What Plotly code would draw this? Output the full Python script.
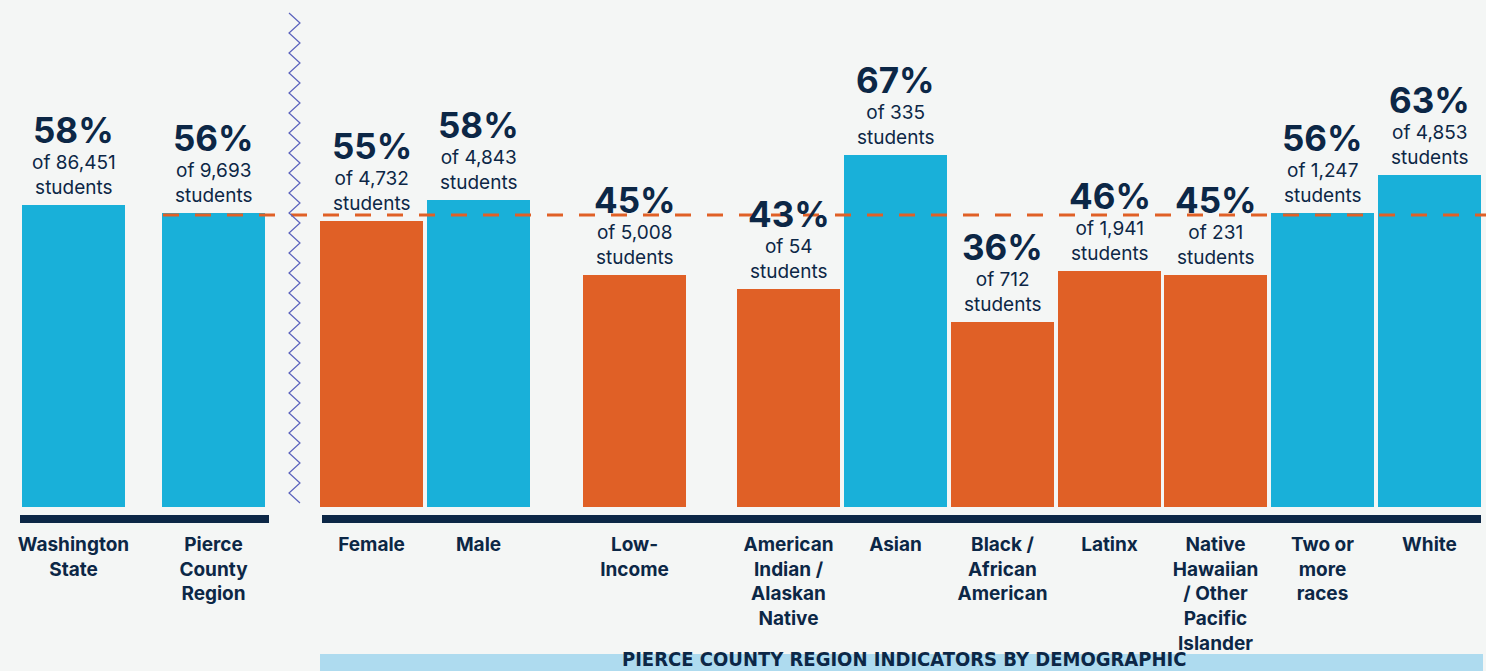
import plotly.graph_objects as go

# ---------------- data ----------------
categories = ["Washington State", "Pierce County Region", "Female", "Male", "Low-Income",
              "American Indian / Alaskan Native", "Asian", "Black / African American",
              "Latinx", "Native Hawaiian / Other Pacific Islander", "Two or more races", "White"]
tick_labels = ["Washington<br>State", "Pierce<br>County<br>Region", "Female", "Male",
               "Low-<br>Income", "American<br>Indian /<br>Alaskan<br>Native", "Asian",
               "Black /<br>African<br>American", "Latinx",
               "Native<br>Hawaiian<br>/ Other<br>Pacific<br>Islander", "Two or<br>more<br>races", "White"]
# labelled percentages
percents = [58, 56, 55, 58, 45, 43, 67, 36, 46, 45, 56, 63]
# bar heights as drawn in the picture (%)
bar_heights = [57.5, 56.0, 54.4, 58.4, 44.2, 41.5, 67.0, 35.2, 44.9, 44.2, 56.0, 63.2]
students = ["86,451", "9,693", "4,732", "4,843", "5,008", "54", "335", "712",
            "1,941", "231", "1,247", "4,853"]
reference_value = 56  # Pierce County Region
banner_text = "PIERCE COUNTY REGION INDICATORS BY DEMOGRAPHIC"

# ---------------- layout / style ----------------
W, H = 1486, 671
x_pos = [73.5, 213.5, 371.5, 478.5, 634.5, 788.5, 895.5, 1002.5, 1109.5, 1215.5, 1322.5, 1429.5]
bar_w = 103
BLUE = "#19b0d9"
ORANGE = "#e06026"
NAVY = "#0c2746"
BG = "#f4f6f5"
BANNER = "#aedbef"
ZIG = "#5a62bd"
FONT = "Inter, Lato, 'Open Sans', sans-serif"

PLOT_H = 523  # plot area height in px (margin top 0)
Y_MIN, Y_MAX = -3.045, 96.5


def py(p):  # pixel y -> paper y
    return (PLOT_H - p) / PLOT_H


colors = [BLUE if v >= reference_value else ORANGE for v in percents]

fig = go.Figure()
fig.add_trace(go.Bar(
    x=x_pos, y=bar_heights, width=bar_w, marker=dict(color=colors, line=dict(width=0)),
    hoverinfo="skip", showlegend=False))

shapes = []
# navy baselines
shapes.append(dict(type="rect", xref="x", yref="paper", x0=20, x1=269, y0=py(523), y1=py(515),
                   fillcolor=NAVY, line=dict(width=0), layer="above"))
shapes.append(dict(type="rect", xref="x", yref="paper", x0=322, x1=1481, y0=py(523), y1=py(515),
                   fillcolor=NAVY, line=dict(width=0), layer="above"))
# dashed reference line
shapes.append(dict(type="line", xref="x", yref="y", x0=163, x1=1486, y0=reference_value - 0.4,
                   y1=reference_value - 0.4,
                   line=dict(color=ORANGE, width=3, dash="16px,16px"), layer="above"))
# zigzag separator
pts = []
yy = 13
left = True
while yy <= 512:
    pts.append((289 if left else 300, yy))
    left = not left
    yy += 10
path = "M " + " L ".join(f"{x},{py(y):.5f}" for x, y in pts)
shapes.append(dict(type="path", xref="x", yref="paper", path=path,
                   line=dict(color=ZIG, width=1.2), layer="above"))
# banner
shapes.append(dict(type="rect", xref="x", yref="paper", x0=320, x1=1483, y0=py(690), y1=py(654),
                   fillcolor=BANNER, line=dict(width=0), layer="below"))

annotations = []
for x, h, v, s in zip(x_pos, bar_heights, percents, students):
    annotations.append(dict(x=x, y=h, xref="x", yref="y", text=f"of {s}<br>students",
                            showarrow=False, yanchor="bottom", yshift=4,
                            font=dict(family=FONT, size=19, color=NAVY)))
    annotations.append(dict(x=x, y=h, xref="x", yref="y", text=f"<b>{v}%</b>",
                            showarrow=False, yanchor="middle", yshift=75,
                            font=dict(family=FONT, size=35, color=NAVY, weight=800)))
annotations.append(dict(x=904, y=py(659), xref="x", yref="paper", text=f"<b>{banner_text}</b>",
                        showarrow=False, xanchor="center", yanchor="middle", borderpad=0,
                        font=dict(family="'Liberation Sans Narrow', 'DejaVu Sans Condensed', sans-serif",
                                  size=20, color=NAVY)))

fig.update_layout(
    width=W, height=H,
    margin=dict(l=0, r=0, t=0, b=H - PLOT_H, pad=0),
    paper_bgcolor=BG, plot_bgcolor=BG,
    shapes=shapes, annotations=annotations,
    xaxis=dict(range=[0, W], tickvals=x_pos, ticktext=[f"<b>{t}</b>" for t in tick_labels],
               showgrid=False, zeroline=False, showline=False, ticks="",
               tickfont=dict(family=FONT, size=19, color=NAVY), ticklabelstandoff=8,
               fixedrange=True),
    yaxis=dict(range=[Y_MIN, Y_MAX], visible=False, showgrid=False, zeroline=False, fixedrange=True),
    bargap=0,
)

fig.write_html(
    "out.html",
    config={"displayModeBar": False},
    post_script="document.body.style.margin='0';document.body.style.overflow='hidden';"
                "document.body.style.background='#f4f6f5';",
)
